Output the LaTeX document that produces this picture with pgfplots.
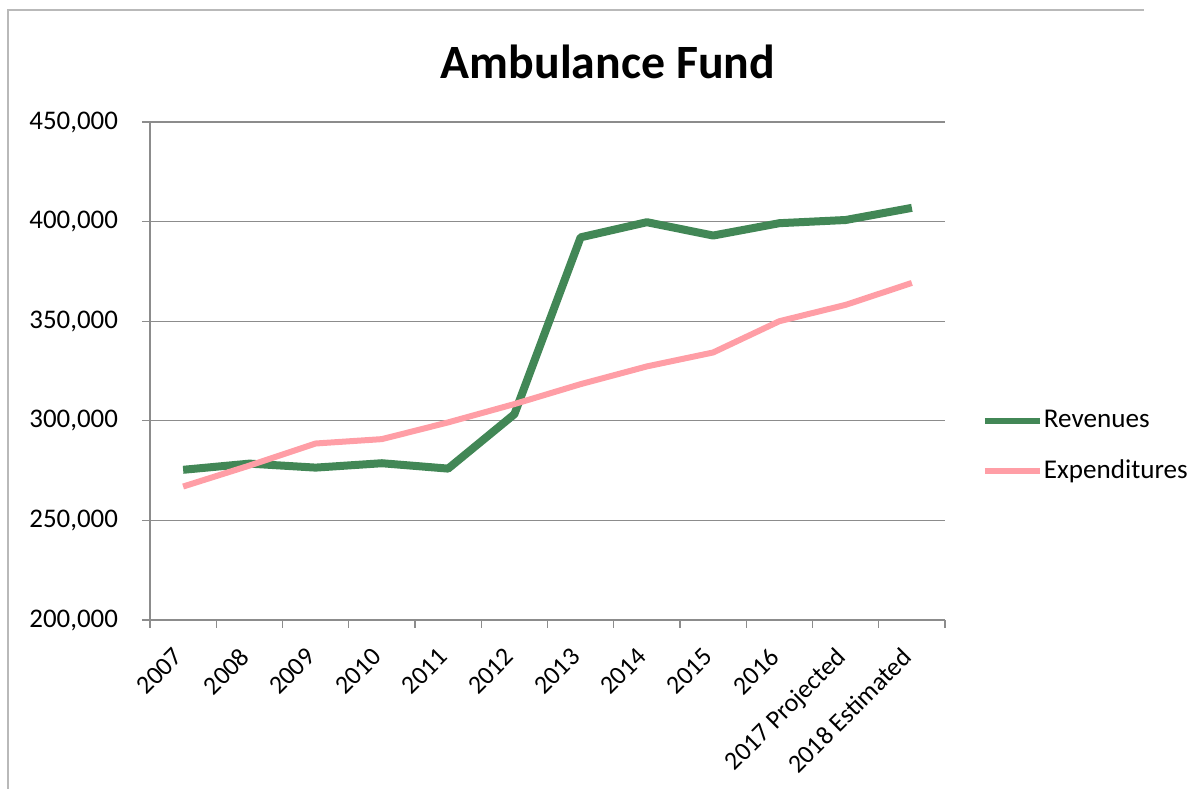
\documentclass[border=0pt]{standalone}
\usepackage{pgfplots}
\pgfplotsset{compat=1.18}
\usepackage{fontspec}
\setmainfont{Carlito}
\definecolor{revgreen}{RGB}{66,135,86}
\definecolor{exppink}{RGB}{255,158,166}
\definecolor{gridgray}{RGB}{140,140,140}

\begin{document}
\begin{tikzpicture}
\path[use as bounding box] (0,0) rectangle (602bp,394.5bp);
% frame of the chart area
\draw[gray!55, line width=0.8bp] (4bp,0) -- (4bp,389.5bp) -- (572bp,389.5bp);
\node[font=\fontsize{24}{29}\selectfont\bfseries] at (304bp,363.5bp) {Ambulance Fund};
\begin{axis}[
  at={(75bp,84.5bp)}, anchor=south west,
  scale only axis, width=397.5bp, height=249bp,
  xmin=-0.5, xmax=11.5, ymin=200000, ymax=450000,
  axis x line*=bottom, axis y line*=left,
  axis line style={gridgray, line width=0.75bp, -},
  tick align=outside,
  xtick={0,...,11},
  xticklabels={2007,2008,2009,2010,2011,2012,2013,2014,2015,2016,2017 Projected,2018 Estimated},
  major x tick style={draw=none},
  minor xtick={-0.5,0.5,...,11.5},
  minor tick length=4bp,
  minor x tick style={gridgray, line width=0.6bp},
  ytick={200000,250000,...,450000},
  major tick length=4bp,
  major y tick style={gridgray, line width=0.6bp},
  ymajorgrids,
  grid style={gridgray, line width=0.6bp},
  scaled y ticks=false,
  /pgf/number format/fixed,
  /pgf/number format/1000 sep={,},
  /pgf/number format/assume math mode=true,
  yticklabel style={font=\fontsize{13.5}{16}\selectfont, xshift=-8.5bp},
  xticklabel shift=9bp,
  xticklabel style={font=\fontsize{13}{15}\selectfont, xshift=-5.5bp,
    rotate=45, anchor=north east, inner sep=0pt},
  legend style={at={(1.046,0.349)}, anchor=west, draw=none, fill=none,
    font=\fontsize{13.6}{16}\selectfont, row sep=14.5bp, inner sep=0pt,
    nodes={inner xsep=0.5bp, inner ysep=0pt}},
  legend cell align=left,
  legend image code/.code={\draw[#1, line width=3bp] (0bp,0bp) -- (27.5bp,0bp);},
]
\addplot[revgreen, line width=4bp, line join=round] coordinates {
  (0,275400) (1,278500) (2,276500) (3,278700) (4,276000) (5,303300)
  (6,392100) (7,399700) (8,393000) (9,399200) (10,400800) (11,406900)
};
\addlegendentry{Revenues}
\addplot[exppink, line width=3bp, line join=round] coordinates {
  (0,267000) (1,277500) (2,288600) (3,290800) (4,299200) (5,308400)
  (6,318400) (7,327300) (8,334300) (9,350000) (10,358200) (11,369200)
};
\addlegendentry{Expenditures}
\end{axis}
\end{tikzpicture}
\end{document}
